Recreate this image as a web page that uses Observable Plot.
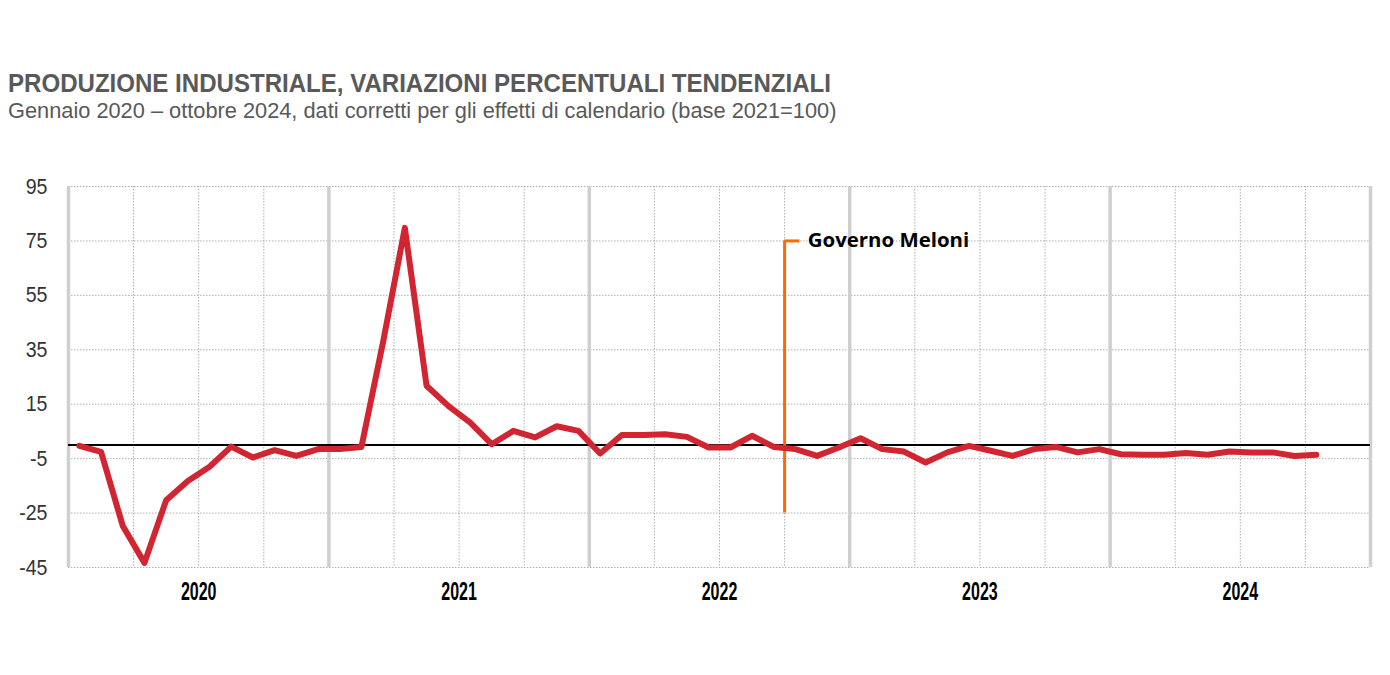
<!DOCTYPE html>
<html>
<head>
<meta charset="utf-8">
<script src="https://cdn.jsdelivr.net/npm/d3@7"></script>
<script src="https://cdn.jsdelivr.net/npm/@observablehq/plot@0.6"></script>
<style>
  html, body { margin: 0; padding: 0; background: #fff; }
  body { width: 1390px; height: 675px; position: relative; overflow: hidden; }
  .title { position: absolute; left: 8px; top: 71px; font-family: "Liberation Sans", Arial, sans-serif; font-weight: bold; font-size: 25.6px; line-height: 1; color: #595959; white-space: nowrap; transform: scaleX(0.94); transform-origin: 0 0; }
  .subtitle { position: absolute; left: 8px; top: 100px; font-family: "Liberation Sans", Arial, sans-serif; font-size: 22px; line-height: 1; color: #595959; white-space: nowrap; transform: scaleX(0.99); transform-origin: 0 0; }
  #chart { position: absolute; left: 0; top: 150px; }
</style>
</head>
<body>
<div class="title">PRODUZIONE INDUSTRIALE, VARIAZIONI PERCENTUALI TENDENZIALI</div>
<div class="subtitle">Gennaio 2020 – ottobre 2024, dati corretti per gli effetti di calendario (base 2021=100)</div>
<div id="chart"></div>
<script>
// Months (categories)
const months = [
  "2020-01","2020-02","2020-03","2020-04","2020-05","2020-06","2020-07","2020-08","2020-09","2020-10","2020-11","2020-12",
  "2021-01","2021-02","2021-03","2021-04","2021-05","2021-06","2021-07","2021-08","2021-09","2021-10","2021-11","2021-12",
  "2022-01","2022-02","2022-03","2022-04","2022-05","2022-06","2022-07","2022-08","2022-09","2022-10","2022-11","2022-12",
  "2023-01","2023-02","2023-03","2023-04","2023-05","2023-06","2023-07","2023-08","2023-09","2023-10","2023-11","2023-12",
  "2024-01","2024-02","2024-03","2024-04","2024-05","2024-06","2024-07","2024-08","2024-09","2024-10"
];
// Year-on-year % change in industrial production
const values = [
  -0.3, -2.5, -29.7, -43.3, -20.3, -13.2, -8.0, -0.6, -4.6, -1.9, -4.0, -1.5,
  -1.5, -0.7, 38.0, 79.8, 21.8, 14.4, 8.3, 0.3, 5.2, 2.8, 6.9, 5.2,
  -3.1, 3.7, 3.7, 4.0, 3.0, -0.9, -0.9, 3.4, -0.7, -1.5, -4.0, -0.9,
  2.5, -1.5, -2.4, -6.4, -2.7, -0.3, -2.1, -4.0, -1.5, -0.7, -2.7, -1.5,
  -3.4, -3.6, -3.6, -2.9, -3.6, -2.4, -2.7, -2.7, -4.0, -3.6
];
const years = ["2020", "2021", "2022", "2023", "2024"];
const yTicks = [95, 75, 55, 35, 15, -5, -25, -45];
// Annotation: start of Governo Meloni (October 2022)
const annotationMonth = ["2022-10"];
const annotationLabel = ["Governo Meloni"];
const annotationRange = [-25, 75];

const monthIndex = m => { const [y, mo] = m.split("-").map(Number); return (y - 2020) * 12 + (mo - 1); };
const data = months.map((m, i) => ({ x: monthIndex(m) + 0.5, value: values[i] }));
const yearBounds = d3.range(0, years.length + 1).map(i => i * 12);
const yearCenters = years.map((y, i) => i * 12 + 6);
const quarterTicks = d3.range(0, years.length * 12 + 1, 3).filter(d => d % 12 !== 0);
const ann = annotationMonth.map((m, i) => ({ x: monthIndex(m), x2: monthIndex(m) + 0.7, y1: annotationRange[0], y2: annotationRange[1], label: annotationLabel[i] }));

const font = '"Liberation Sans", Arial, sans-serif';

const chart = Plot.plot({
  width: 1390,
  height: 475,
  marginTop: 36,
  marginBottom: 58,
  marginLeft: 68,
  marginRight: 20,
  style: { background: "white", fontFamily: font, color: "#222" },
  x: { type: "linear", domain: [0, 60], axis: null },
  y: { domain: [-45, 95], axis: null },
  marks: [
    Plot.gridY(yTicks, { stroke: "#b0b0b0", strokeOpacity: 1, strokeDasharray: "1.5,1.5", strokeWidth: 1 }),
    Plot.gridX(quarterTicks, { stroke: "#b0b0b0", strokeOpacity: 1, strokeDasharray: "1.5,1.5", strokeWidth: 1 }),
    Plot.ruleX(yearBounds, { stroke: "#cfcfcf", strokeWidth: 3.5 }),
    Plot.axisY(yTicks, { tickSize: 0, tickPadding: 21, fontSize: 22, fill: "#333", tickFormat: d => String(d) }),
    Plot.axisX(yearCenters, { tickSize: 0, tickPadding: 15, fontSize: 25, fontWeight: "bold", fill: "#000", tickFormat: (d, i) => years[i] }),
    Plot.ruleY([0], { stroke: "black", strokeWidth: 2 }),
    Plot.ruleX(ann, { x: "x", y1: "y1", y2: "y2", stroke: "#ff6a00", strokeWidth: 3 }),
    Plot.ruleY(ann, { x1: "x", x2: "x2", y: "y2", stroke: "#ff6a00", strokeWidth: 3 }),
    Plot.text(ann, { x: "x2", y: "y2", text: "label", textAnchor: "start", dx: 8, fontSize: 20.4, fontWeight: "bold", fill: "#000", fontFamily: '"Open Sans", "Noto Sans", sans-serif' }),
    Plot.line(data, { x: "x", y: "value", stroke: "#d12631", strokeWidth: 6, strokeLinejoin: "round", strokeLinecap: "round" })
  ]
});
// Condense axis labels horizontally to mimic the narrow typeface of the original
const condense = (sel, sx) => chart.querySelectorAll(sel).forEach(t => {
  t.setAttribute("transform", (t.getAttribute("transform") || "") + ` scale(${sx},1)`);
});
condense('g[aria-label="x-axis tick label"] text', 0.64);
condense('g[aria-label="y-axis tick label"] text', 0.89);
document.getElementById("chart").appendChild(chart);
</script>
</body>
</html>
